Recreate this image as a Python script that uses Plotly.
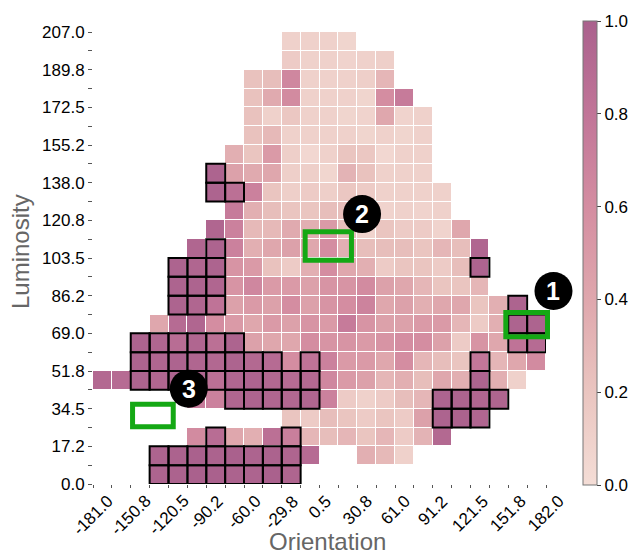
import numpy as np
import plotly.graph_objects as go

# Bin layout of the 2-D histogram (Orientation x Luminosity)
X_MIN, X_MAX = -181.0, 182.0
Y_MIN, Y_MAX = 0.0, 207.0
N_COLS, N_ROWS = 24, 24

x_ticktext = ["-181.0", "-150.8", "-120.5", "-90.2", "-60.0", "-29.8", "0.5",
              "30.8", "61.0", "91.2", "121.5", "151.8", "182.0"]
y_ticktext = ["0.0", "17.2", "34.5", "51.8", "69.0", "86.2", "103.5",
              "120.8", "138.0", "155.2", "172.5", "189.8", "207.0"]
cbar_ticks = [0.0, 0.2, 0.4, 0.6, 0.8, 1.0]

n = None
# Normalised values per row, bottom row (Luminosity 0) first
row00 = [n, n, n, .97, .98, 1, 1, .98, .97, 1, .96] + [n] * 13
row01 = [n, n, n, .97, .98, 1, .98, 1, .97, .98, .96, .9, n, n, .35, .28, .1] + [n] * 7
row02 = [n] * 5 + [.62, .88, .4, .35, .85, .72, .3, .25, .3, .2, .3, .15, .32, .92] + [n] * 5
row03 = [n] * 10 + [.2, .15, .25, .2, .15, .2, .15, .45, .97, .98, .95] + [n] * 3
row04 = [n] * 5 + [.75, .7, .95, .97, .95, .93, .95, .7, .15, .1, .15, .25, .3, .97, .97, .95, .96] + [n] * 2
row05 = [.92, .9, .97, .95, .97, .95, .85, .95, .97, .93, .9, .92, .65, .5, .45, .3, .35, .25, .4, .35, .97, .35, .1, n]
row06 = [n, n, .97, .95, .97, .95, .93, .97, .92, .9, .6, .82, .7, .5, .5, .4, .6, .3, .25, .2, .78, .3, .4, .62]
row07 = [n, n, .97, .95, .88, .95, .85, .97, .45, .4, .4, .6, .55, .55, .5, .55, .6, .6, .45, .15, .55, .4, .82, .9]
row08 = [n, n, n, .4, .9, .95, .6, .5, .4, .5, .45, .55, .5, .75, .55, .45, .45, .5, .5, .3, .15, .35, .97, .97]
row09 = [n] * 4 + [.97, .95, .82, .45, .5, .45, .6, .45, .55, .6, .68, .4, .45, .35, .4, .4, .2, .35, .97, n]
row10 = [n] * 4 + [.97, .97, .95, .55, .65, .5, .5, .45, .55, .55, .62, .45, .4, .3, .2, .2, .3] + [n] * 3
row11 = [n] * 4 + [.97, .95, .97, .55, .5, .22, .15, .35, .6, .4, .35, .15, .2, .2, .15, .25, .97] + [n] * 3
row12 = [n] * 5 + [.95, .97, .7, .35, .4, .45, .4, .6, .35, .25, .25, .25, .2, .3, .25, .95] + [n] * 3
row13 = [n] * 6 + [.95, .7, .28, .28, .38, .35, .5, .25, .08, .2, .15, .15, .08, .4] + [n] * 4
row14 = [n] * 7 + [.75, .35, .25, .2, .2, .25, .25, .1, .08, .1, .08, .1] + [n] * 5
row15 = [n] * 6 + [.97, .85, .7, .2, .12, .15, .12, .18, .15, .1, .1, .1, .1] + [n] * 5
row16 = [n] * 6 + [.97, .45, .38, .4, .12, .12, .06, .32, .22, .1, .1, .1] + [n] * 6
row17 = [n] * 7 + [.35, .2, .5, .12, .05, .1, .2, .18, .05, .1, .1] + [n] * 6
row18 = [n] * 8 + [.22, .28, .1, .1, .1, .1, .07, .1, .07, .1] + [n] * 6
row19 = [n] * 8 + [.22, .1, .18, .1, .1, .07, .08, .4, .08, .1] + [n] * 6
row20 = [n] * 8 + [.22, .38, .62, .1, .1, .1, .07, .6, .75] + [n] * 7
row21 = [n] * 8 + [.22, .25, .65, .1, .1, .1, .12, .3] + [n] * 8
row22 = [n] * 10 + [.15, .1, .1, .08, .1, .12] + [n] * 8
row23 = [n] * 10 + [.1, .1, .1, .07] + [n] * 10

values = [row00, row01, row02, row03, row04, row05, row06, row07, row08, row09,
          row10, row11, row12, row13, row14, row15, row16, row17, row18, row19,
          row20, row21, row22, row23]

# Cells outlined in black: row index -> column indices
outlined = {
    0: list(range(3, 11)),
    1: list(range(3, 11)),
    2: [6, 10],
    3: [18, 19, 20],
    4: [7, 8, 9, 10, 11, 18, 19, 20, 21],
    5: list(range(2, 12)) + [20],
    6: list(range(2, 10)) + [11, 20],
    7: list(range(2, 8)) + [22, 23],
    8: [22, 23],
    9: [4, 5, 6, 22],
    10: [4, 5, 6],
    11: [4, 5, 6, 20],
    12: [6],
    15: [6, 7],
    16: [6],
}

# Highlight boxes (x0, x1, y0, y1) and numbered markers (x, y, label), in data units
boxes = [(149.8, 183.2, 67.4, 78.5), (-11.0, 26.1, 102.5, 115.5), (-149.3, -116.7, 26.2, 36.5)]
markers_x = [188.0, 34.6, -104.3]
markers_y = [88.4, 123.6, 43.6]
markers_text = ["1", "2", "3"]

colorscale = [
    [0.0, "rgb(244,221,214)"],
    [0.2, "rgb(234,197,192)"],
    [0.4, "rgb(223,167,173)"],
    [0.6, "rgb(212,141,161)"],
    [0.8, "rgb(193,117,152)"],
    [1.0, "rgb(170,97,141)"],
]

x_edges = np.linspace(X_MIN, X_MAX, N_COLS + 1)
y_edges = np.linspace(Y_MIN, Y_MAX, N_ROWS + 1)
x_centers = (x_edges[:-1] + x_edges[1:]) / 2
y_centers = (y_edges[:-1] + y_edges[1:]) / 2
z = np.array([[np.nan if v is None else v for v in r] for r in values], dtype=float)


def px(v):
    """Data x -> paper fraction (lets overlays spill past the plot edge)."""
    return (v - X_MIN) / (X_MAX - X_MIN)


def py(v):
    return (v - Y_MIN) / (Y_MAX - Y_MIN)


FONT = "Liberation Sans, Arial, Helvetica, sans-serif"

fig = go.Figure()
fig.add_trace(go.Heatmap(
    x=x_centers, y=y_centers, z=z,
    zmin=0, zmax=1, colorscale=colorscale, xgap=1, ygap=1,
    hoverongaps=False,
    colorbar=dict(
        x=(583 - 93) / 453, xanchor="left", y=(484 - 253) / 452, yanchor="middle",
        len=464 / 452, lenmode="fraction", thickness=14, xpad=0, ypad=0,
        outlinecolor="#777", outlinewidth=1,
        tickvals=cbar_ticks, ticktext=[f"{t:.1f}" for t in cbar_ticks],
        ticks="outside", ticklen=4, tickcolor="#444",
        tickfont=dict(family=FONT, size=17, color="black"),
    ),
))

shapes = []
for r, cols in outlined.items():
    for c in cols:
        shapes.append(dict(type="rect", xref="x", yref="y",
                           x0=x_edges[c], x1=x_edges[c + 1],
                           y0=y_edges[r], y1=y_edges[r + 1],
                           line=dict(color="black", width=2), fillcolor="rgba(0,0,0,0)"))
for (bx0, bx1, by0, by1) in boxes:
    shapes.append(dict(type="rect", xref="paper", yref="paper",
                       x0=px(bx0), x1=px(bx1), y0=py(by0), y1=py(by1),
                       line=dict(color="rgb(20,168,20)", width=5), fillcolor="rgba(0,0,0,0)"))
for mx, my in zip(markers_x, markers_y):
    shapes.append(dict(type="circle", xref="paper", yref="paper",
                       xsizemode="pixel", ysizemode="pixel",
                       xanchor=px(mx), yanchor=py(my), x0=-19, x1=19, y0=-19, y1=19,
                       fillcolor="black", line=dict(width=0)))

annotations = []
for mx, my, mt in zip(markers_x, markers_y, markers_text):
    annotations.append(dict(x=px(mx), y=py(my), xref="paper", yref="paper",
                            text=f"<b>{mt}</b>", showarrow=False,
                            xanchor="center", yanchor="middle",
                            font=dict(family=FONT, size=25, color="white")))
for xv, lab in zip(x_edges[::2], x_ticktext):
    annotations.append(dict(x=xv, xref="x", y=0, yref="paper", text=lab, showarrow=False,
                            xanchor="center", yanchor="top", textangle=-45, yshift=-5,
                            font=dict(family=FONT, size=17, color="black")))
annotations.append(dict(x=(327 - 93) / 453, xref="paper", y=(484 - 541) / 452, yref="paper",
                        text="Orientation", showarrow=False, xanchor="center", yanchor="middle",
                        font=dict(family=FONT, size=24, color="#666")))
annotations.append(dict(x=(20 - 93) / 453, xref="paper", y=(484 - 252) / 452, yref="paper",
                        text="Luminosity", showarrow=False, xanchor="center", yanchor="middle",
                        textangle=-90, font=dict(family=FONT, size=24, color="#666")))

fig.update_layout(
    width=633, height=556,
    margin=dict(l=93, r=87, t=32, b=72, autoexpand=False),
    plot_bgcolor="white", paper_bgcolor="white",
    shapes=shapes, annotations=annotations, showlegend=False,
    xaxis=dict(range=[X_MIN, X_MAX], showgrid=False, zeroline=False, showline=False,
               tickvals=x_edges[::2], showticklabels=False,
               ticks="outside", ticklen=3, tickcolor="#555",
               minor=dict(tickvals=x_edges[1::2], ticks="outside", ticklen=3, tickcolor="#555")),
    yaxis=dict(range=[Y_MIN, Y_MAX], showgrid=False, zeroline=False, showline=False,
               tickvals=y_edges[::2], ticktext=y_ticktext,
               ticks="outside", ticklen=4, tickcolor="#555",
               tickfont=dict(family=FONT, size=17, color="black"),
               minor=dict(tickvals=y_edges[1::2], ticks="outside", ticklen=4, tickcolor="#555")),
)

fig.write_html("out.html")
